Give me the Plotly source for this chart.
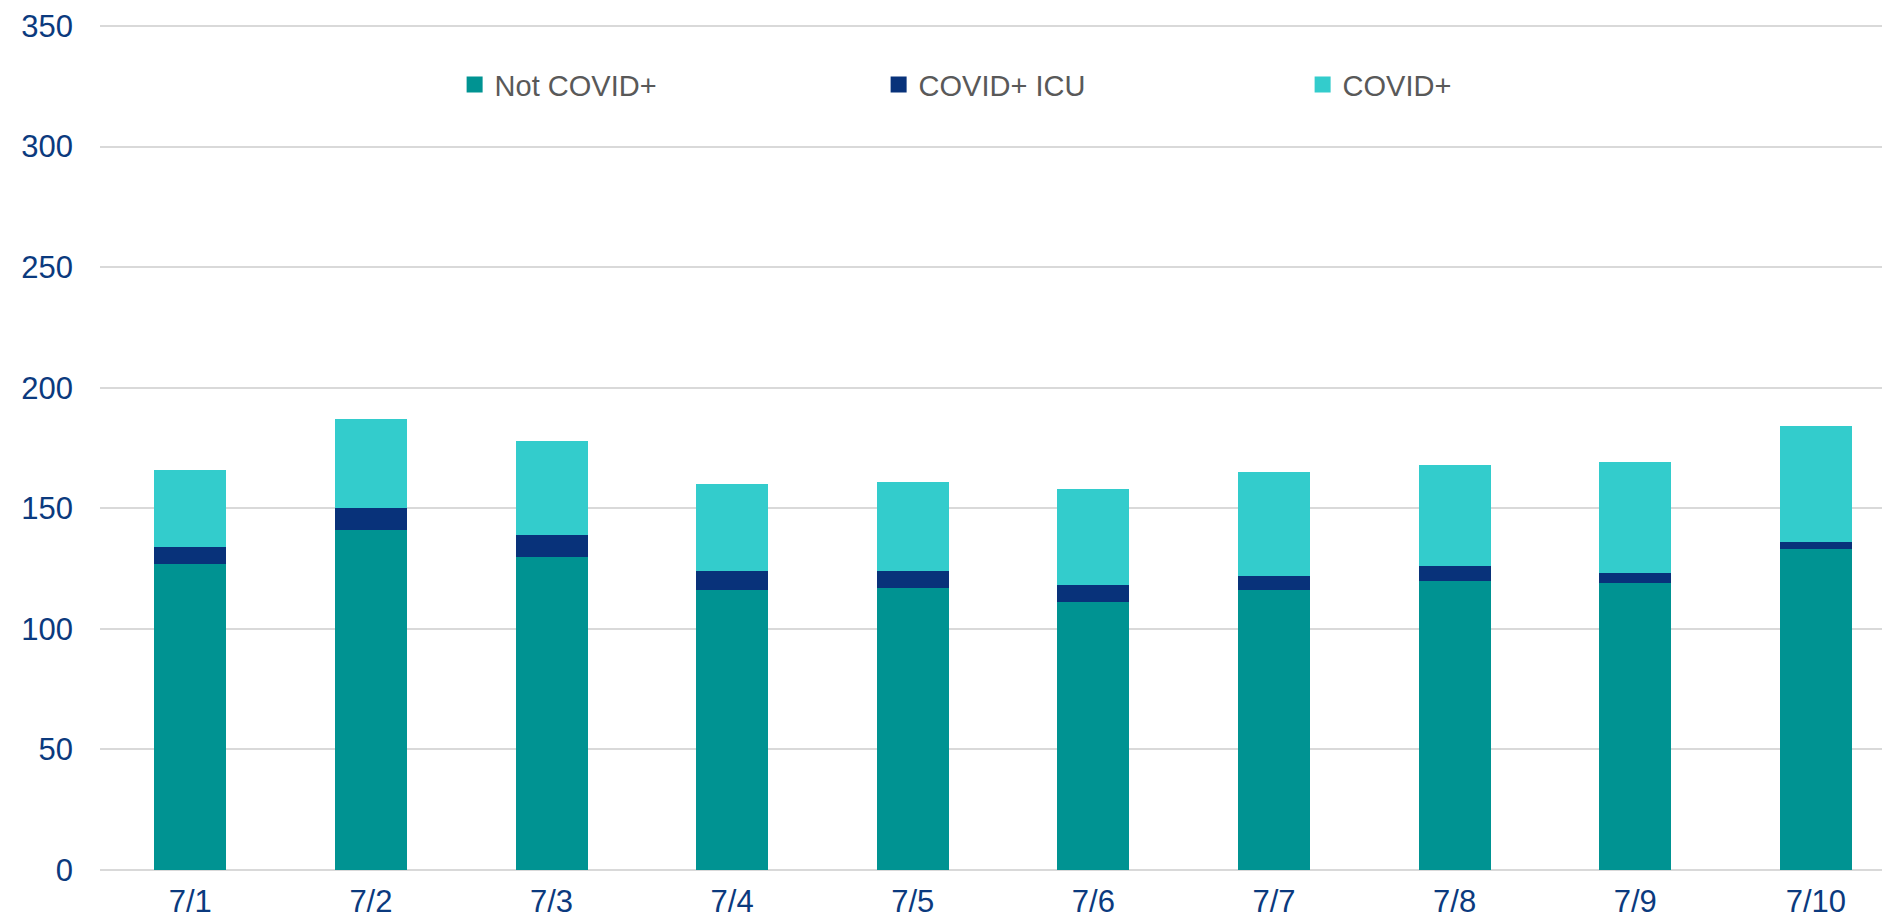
import plotly.graph_objects as go

categories = ["7/1", "7/2", "7/3", "7/4", "7/5", "7/6", "7/7", "7/8", "7/9", "7/10"]
not_covid = [127, 141, 130, 116, 117, 111, 116, 120, 119, 133]
covid_icu = [7, 9, 9, 8, 7, 7, 6, 6, 4, 3]
covid_pos = [32, 37, 39, 36, 37, 40, 43, 42, 46, 48]
y_ticks = [0, 50, 100, 150, 200, 250, 300, 350]

series = [
    ("Not COVID+", not_covid, "#009392"),
    ("COVID+ ICU", covid_icu, "#08327A"),
    ("COVID+", covid_pos, "#33CCCC"),
]

fig = go.Figure()
for name, vals, color in series:
    fig.add_trace(go.Bar(
        x=categories, y=vals, name=name, legendgroup=name, showlegend=False,
        marker=dict(color=color, line=dict(width=0)),
    ))
for name, vals, color in series:
    fig.add_trace(go.Scatter(
        x=[None], y=[None], mode="markers", name=name, legendgroup=name,
        marker=dict(symbol="square", size=18, color=color),
    ))

fig.update_layout(
    barmode="stack",
    bargap=0.601,
    width=1882, height=920,
    margin=dict(l=100, r=0, t=21, b=50),
    paper_bgcolor="white", plot_bgcolor="white",
    font=dict(family="Arial, Liberation Sans, sans-serif"),
    showlegend=True,
    legend=dict(
        orientation="h", x=0.199, xanchor="left", y=0.925, yanchor="middle",
        entrywidth=379, entrywidthmode="pixels",
        font=dict(size=29, color="#595959"),
        bgcolor="rgba(0,0,0,0)",
    ),
    xaxis=dict(
        type="category", range=[-0.5, 9.366],
        tickfont=dict(size=31, color="#0B3A7E"),
        showgrid=False, showline=False, ticks="", ticklabelstandoff=10,
    ),
    yaxis=dict(
        range=[0, 352.07], tickvals=y_ticks,
        tickfont=dict(size=31, color="#0B3A7E"),
        showgrid=True, gridcolor="#D9D9D9", gridwidth=1.5,
        zeroline=True, zerolinecolor="#D9D9D9", zerolinewidth=1.5,
        showline=False, ticks="", ticklabelstandoff=26,
    ),
)

fig.write_html(
    "out.html",
    config={"displayModeBar": False},
    post_script="document.body.style.margin='0';document.body.style.overflow='hidden';",
)
